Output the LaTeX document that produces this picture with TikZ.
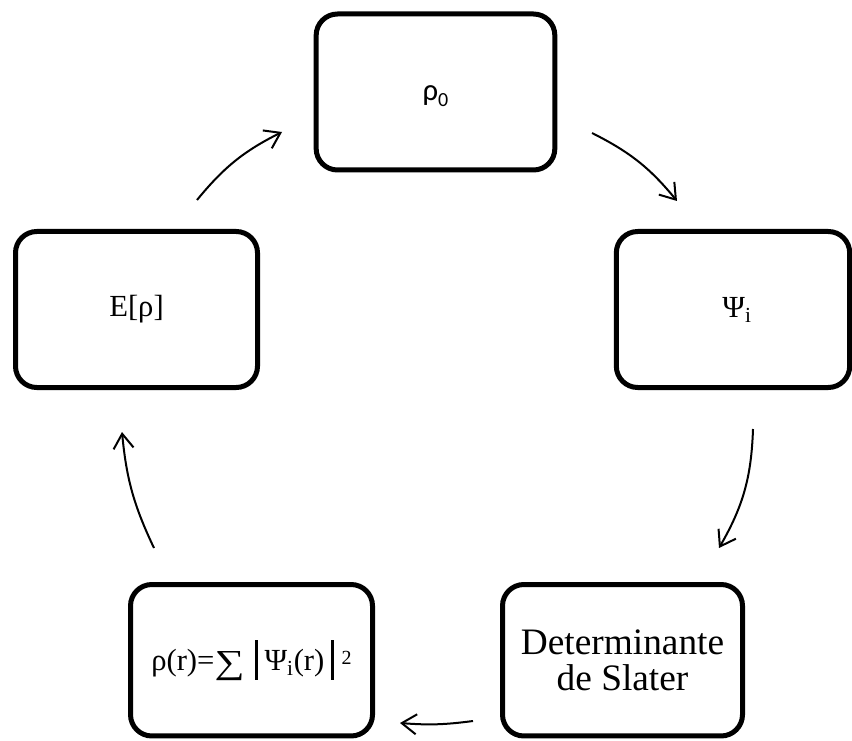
\documentclass[tikz,border=0pt]{standalone}
\usepackage{fontspec}
\usepackage{graphicx}
\setmainfont{Liberation Serif}
\newfontfamily\calfont{Carlito}
\usetikzlibrary{arrows.meta}
\begin{document}
\begin{tikzpicture}[x=0.75pt,y=0.75pt,
  box/.style={draw=black, line width=3.75pt, rounded corners=16pt, inner sep=0pt, align=center, fill=white},
  conn/.style={line width=1.5pt, -{Straight Barb[length=11pt,width=15pt]}},
  txt/.style={font=\fontsize{23}{27}\selectfont}]
\useasboundingbox (0,0) rectangle (852,740);
% boxes
\node[box, minimum width=179pt, minimum height=117pt] (top) at (435.5,648) {};
\node[txt] (toptext) at ([yshift=-3pt]top.center)
  {\calfont\fontsize{23}{28}\selectfont ρ\raisebox{-5pt}{\fontsize{15}{15}\selectfont 0}};
\node[box, txt, minimum width=181.5pt, minimum height=117pt] (left) at (136.5,430.5) {E[ρ]};
\node[box, minimum width=175pt, minimum height=117pt] (right) at (733,430.5) {};
\node[txt] (righttext) at ([xshift=3pt]right.center) {Ψ\textsubscript{i}};
\node[box, txt, minimum width=181.5pt, minimum height=113.6pt] (bl) at (251.5,79.75)
  {ρ(r)=\raisebox{-2pt}{\resizebox{22.5pt}{16.5pt}{∑}}\hspace{8pt}\rule[-6.75pt]{2pt}{30pt}\hspace{5pt}Ψ\textsubscript{i}(r)\hspace{5pt}\rule[-6.75pt]{2pt}{30pt}\hspace{6pt}\raisebox{4.5pt}{\fontsize{15}{15}\selectfont 2}};
\node[box, minimum width=180pt, minimum height=113.6pt, font=\fontsize{28}{27}\selectfont] (br) at (622.5,79.75)
  {Determinante\\de Slater};
% arrow end points
\coordinate (a1s) at (197,540); \coordinate (a1e) at (282,608);
\coordinate (a2s) at (592,607); \coordinate (a2e) at (677,539);
\coordinate (a3s) at (753,311); \coordinate (a3e) at (719,192);
\coordinate (a4s) at (473,19);  \coordinate (a4e) at (400,17);
\coordinate (a5s) at (154,192); \coordinate (a5e) at (122,308);
\draw[conn] (a1s) to[bend left=12] (a1e);
\draw[conn] (a2s) to[bend left=12] (a2e);
\draw[conn] (a3s) to[bend left=14] (a3e);
\draw[conn] (a4s) to[bend left=6] (a4e);
\draw[conn] (a5s) to[bend left=10] (a5e);
\end{tikzpicture}
\end{document}
